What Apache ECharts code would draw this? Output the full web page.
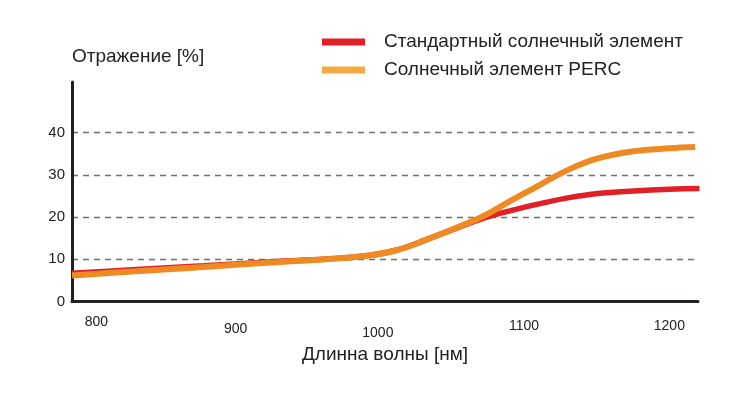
<!DOCTYPE html>
<html>
<head>
<meta charset="utf-8">
<script src="https://cdn.jsdelivr.net/npm/echarts@6/dist/echarts.min.js"></script>
<style>
html,body{margin:0;padding:0;background:#fff;}
#chart{width:749px;height:394px;}
</style>
</head>
<body>
<div id="chart"></div>
<script>
const seriesNames = ['Стандартный солнечный элемент', 'Солнечный элемент PERC'];
const xTickLabels = [800, 900, 1000, 1100, 1200];
const yTickLabels = [0, 10, 20, 30, 40];

const standardWavelengths = [783, 825, 875, 925, 960, 990, 1010, 1030, 1050, 1070, 1090, 1110, 1130, 1150, 1175, 1200, 1221];
const standardValues      = [6.7, 7.5, 8.45, 9.45, 10.05, 10.9, 12.2, 14.6, 17.2, 19.7, 21.6, 23.2, 24.6, 25.6, 26.2, 26.6, 26.75];

const percWavelengths = [783, 825, 875, 925, 960, 990, 1010, 1030, 1050, 1070, 1090, 1110, 1130, 1150, 1175, 1200, 1218];
const percValues      = [6.15, 7.1, 8.2, 9.3, 10.0, 10.9, 12.2, 14.6, 17.3, 20.2, 24.0, 27.7, 31.3, 33.9, 35.6, 36.3, 36.6];

const pairs = (xs, ys) => xs.map((x, i) => [x, ys[i]]);

const labelStyle = {
  800:  {padding: [14, 0, 0, 0]},
  900:  {padding: [21, 8, 0, 0]},
  1000: {padding: [25, 10, 0, 0]},
  1100: {padding: [18, 4, 0, 0]},
  1200: {padding: [18, 0, 0, 0]}
};
const rich = {};
xTickLabels.forEach(v => {
  rich['t' + v] = Object.assign({fontSize: 14, color: '#222', fontFamily: 'Liberation Sans'}, labelStyle[v]);
});

const chart = echarts.init(document.getElementById('chart'));
const grey = '#707070';
chart.setOption({
  animation: false,
  backgroundColor: '#fff',
  textStyle: {fontFamily: 'Liberation Sans'},
  legend: {
    orient: 'vertical',
    left: 322,
    top: 32,
    padding: 0,
    itemWidth: 43,
    itemHeight: 7,
    itemGap: 8,
    icon: 'rect',
    textStyle: {fontSize: 19, color: '#222', lineHeight: 20, padding: [0, 0, 0, 14], fontFamily: 'Liberation Sans'},
    data: [
      {name: seriesNames[0], itemStyle: {color: '#E11F26'}},
      {name: seriesNames[1], itemStyle: {color: '#F4AA40'}}
    ]
  },
  grid: {left: 72, right: 51, top: 82, bottom: 92.5},
  xAxis: {
    type: 'value',
    min: 783,
    max: 1220,
    name: 'Длинна волны [нм]',
    nameLocation: 'middle',
    nameGap: 41,
    nameTextStyle: {fontSize: 19, color: '#222', verticalAlign: 'top'},
    axisLine: {show: true, lineStyle: {color: '#231f20', width: 3}},
    axisTick: {show: false},
    splitLine: {show: false},
    axisLabel: {
      customValues: xTickLabels,
      margin: 0,
      formatter: v => '{t' + v + '|' + v + '}',
      rich: rich
    }
  },
  yAxis: {
    type: 'value',
    min: 0,
    max: 52,
    interval: 10,
    name: 'Отражение [%]',
    nameLocation: 'end',
    nameGap: 25,
    nameTextStyle: {fontSize: 19, color: '#222', align: 'left', verticalAlign: 'middle'},
    axisLine: {show: true, lineStyle: {color: '#231f20', width: 3}},
    axisTick: {show: false},
    axisLabel: {
      fontSize: 15,
      color: '#222',
      margin: 7,
      formatter: v => (yTickLabels.indexOf(v) >= 0 ? String(v) : '')
    },
    splitLine: {
      show: true,
      lineStyle: {
        color: [grey, grey, grey, grey, grey, 'rgba(0,0,0,0)', 'rgba(0,0,0,0)', 'rgba(0,0,0,0)'],
        width: 1.3,
        type: [6, 5]
      }
    }
  },
  series: [
    {
      name: seriesNames[0],
      type: 'line',
      data: pairs(standardWavelengths, standardValues),
      smooth: 0.4,
      showSymbol: false,
      color: '#E11F26',
      lineStyle: {width: 5.5, color: '#E11F26'},
      z: 2
    },
    {
      name: seriesNames[1],
      type: 'line',
      data: pairs(percWavelengths, percValues),
      smooth: 0.4,
      showSymbol: false,
      color: '#EF8A22',
      lineStyle: {width: 6, color: '#EF8A22', cap: 'butt'},
      z: 3
    }
  ]
});
</script>
</body>
</html>
